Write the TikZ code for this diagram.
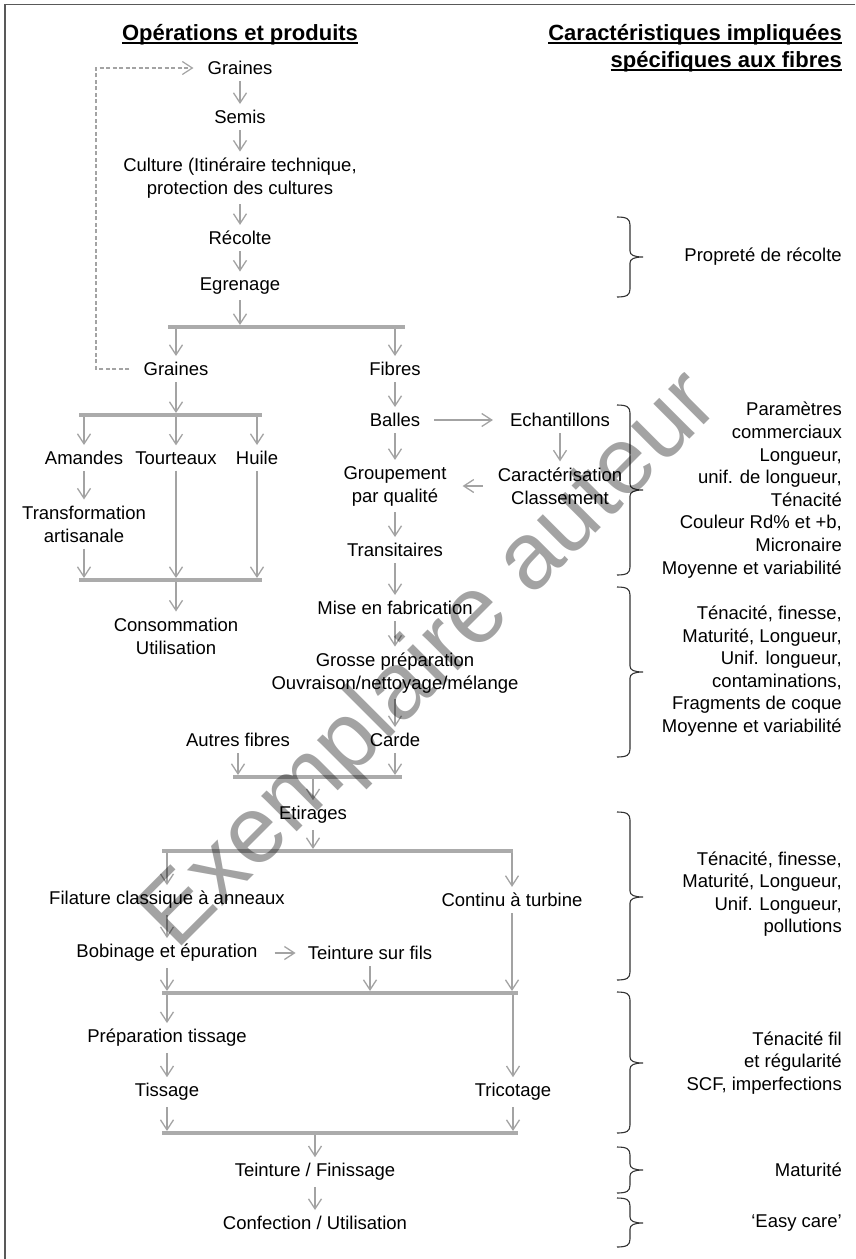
\documentclass[tikz,border=0pt]{standalone}
\usepackage{fontspec}
\setmainfont{Liberation Sans}
\usetikzlibrary{arrows.meta}

\definecolor{flgris}{HTML}{A3A3A3}
\definecolor{bargris}{HTML}{ABABAB}
\definecolor{traitgris}{HTML}{333333}

\tikzset{
  etape/.style={font=\fontsize{18.5}{23}\selectfont, align=center, inner sep=2pt},
  carac/.style={font=\fontsize{18.5}{22.6}\selectfont, align=right, anchor=east, inner sep=0pt},
  titre/.style={font=\fontsize{22}{27}\selectfont\bfseries, inner sep=0pt},
  fleche/.style={draw=flgris, line width=1.3pt, -{Straight Barb[length=10pt,width=13pt]}, shorten <=4pt, shorten >=4pt},
  vers barre/.style={fleche, shorten >=2pt},
  de barre/.style={fleche, shorten <=2pt},
  barre/.style={draw=bargris, line width=4pt},
  retour/.style={fleche, dash pattern=on 4pt off 2.5pt, line width=1.2pt, shorten <=12pt, shorten >=12pt},
  accol/.style={draw=traitgris, line width=1.1pt}
}

% accolade: haut, pointe, bas
\newcommand{\accolade}[3]{%
  \draw[accol] (617,#1) .. controls (627,#1) and (630,{#1+2}) .. (630,{#1+8})
    -- (630,{#2-6}) .. controls (630,{#2-2}) and (634,#2) .. (643,#2)
    .. controls (634,#2) and (630,{#2+2}) .. (630,{#2+6})
    -- (630,{#3-8}) .. controls (630,{#3-2}) and (627,#3) .. (617,#3);}

\begin{document}
\begin{tikzpicture}[x=1pt, y=-1pt]
  \useasboundingbox (0,0) rectangle (855,1259);
  \draw[draw=black!65, line width=1.5pt] (855,4.5) -- (5,4.5) -- (5,1259);

  % titres
  \node[titre, anchor=base] (titreg) at (240,40) {Opérations et produits};
  \node[titre, anchor=base east] (titred1) at (842,40) {Caractéristiques impliquées};
  \node[titre, anchor=base east] (titred2) at (842,67) {spécifiques aux fibres};
  \foreach \t in {titreg,titred1,titred2}
    \draw[line width=1.6pt] ([yshift=-2.8pt]\t.base west) -- ([yshift=-2.8pt]\t.base east);

  % culture
  \node[etape] (graine1) at (240,68) {Graines};
  \node[etape] (semis) at (240,117) {Semis};
  \node[etape] (culture) at (240,178) {Culture (Itinéraire technique,\\protection des cultures};
  \node[etape] (recolte) at (240,238) {Récolte};
  \node[etape] (egrenage) at (240,286) {Egrenage};

  % graines
  \node[etape] (graine2) at (176,369) {Graines};
  \node[etape] (amandes) at (84,458) {Amandes};
  \node[etape] (tourteaux) at (176,458) {Tourteaux};
  \node[etape] (huile) at (257,458) {Huile};
  \node[etape] (transfo) at (84,524) {Transformation\\artisanale};
  \node[etape] (conso) at (176,636) {Consommation\\Utilisation};

  % fibres
  \node[etape] (fibres) at (395,369) {Fibres};
  \node[etape] (balles) at (395,420) {Balles};
  \node[etape] (echant) at (560,420) {Echantillons};
  \node[etape] (caract) at (560,486) {Caractérisation\\Classement};
  \node[etape] (groupe) at (395,486) {Groupement\\par qualité};
  \node[etape] (transit) at (395,550) {Transitaires};
  \node[etape] (mise) at (395,608) {Mise en fabrication};
  \node[etape] (grosse) at (395,673) {Grosse préparation\\Ouvraison/nettoyage/mélange};
  \node[etape] (carde) at (395,740) {Carde};
  \node[etape] (autres) at (238,740) {Autres fibres};
  \node[etape] (etirages) at (313,815) {Etirages};

  % filature et tissage
  \node[etape] (filature) at (167,900) {Filature classique à anneaux};
  \node[etape] (continu) at (512,900) {Continu à turbine};
  \node[etape] (bobinage) at (167,953) {Bobinage et épuration};
  \node[etape] (teinfils) at (370,953) {Teinture sur fils};
  \node[etape] (prepa) at (167,1038) {Préparation tissage};
  \node[etape] (tissage) at (167,1092) {Tissage};
  \node[etape] (tricot) at (513,1092) {Tricotage};
  \node[etape] (finissage) at (315,1172) {Teinture / Finissage};
  \node[etape] (confection) at (315,1223) {Confection / Utilisation};

  % barres
  \coordinate (b1g) at (168,327);  \coordinate (b1d) at (405,327);
  \coordinate (b2g) at (79,415);   \coordinate (b2d) at (262,415);
  \coordinate (b3g) at (79,580);   \coordinate (b3d) at (262,580);
  \coordinate (b4g) at (233,777);  \coordinate (b4d) at (402,777);
  \coordinate (b5g) at (162,851);  \coordinate (b5d) at (513,851);
  \coordinate (b6g) at (162,993);  \coordinate (b6d) at (518,993);
  \coordinate (b7g) at (162,1133); \coordinate (b7d) at (518,1133);
  \foreach \b in {1,...,7}
    \draw[barre] (b\b g) -- (b\b d);

  \draw[fleche] (graine1) -- (semis);
  \draw[fleche] (semis) -- (culture);
  \draw[fleche] (culture) -- (recolte);
  \draw[fleche] (recolte) -- (egrenage);
  \draw[vers barre] (egrenage) -- (egrenage |- b1g);
  \draw[de barre] (graine2 |- b1g) -- (graine2);
  \draw[de barre] (fibres |- b1g) -- (fibres);

  \coordinate (boucle) at (96,200);
  \draw[retour] (graine2) -| (boucle) |- (graine1);

  \draw[vers barre] (graine2) -- (graine2 |- b2g);
  \draw[de barre] (amandes |- b2g) -- (amandes);
  \draw[de barre] (tourteaux |- b2g) -- (tourteaux);
  \draw[de barre] (huile |- b2g) -- (huile);
  \draw[fleche] (amandes) -- (transfo);
  \draw[vers barre] (transfo) -- (transfo |- b3g);
  \draw[vers barre] (tourteaux) -- (tourteaux |- b3g);
  \draw[vers barre] (huile) -- (huile |- b3g);
  \draw[de barre] (conso |- b3g) -- (conso);

  \draw[fleche] (fibres) -- (balles);
  \draw[fleche, shorten <=12pt, shorten >=15pt] (balles) -- (echant);
  \draw[fleche] (echant) -- (caract);
  \draw[fleche, shorten <=13pt, shorten >=14pt] (caract) -- (groupe);
  \draw[fleche] (balles) -- (groupe);
  \draw[fleche] (groupe) -- (transit);
  \draw[fleche] (transit) -- (mise);
  \draw[fleche] (mise) -- (grosse);
  \draw[fleche] (grosse) -- (carde);
  \draw[vers barre] (autres) -- (autres |- b4g);
  \draw[vers barre] (carde) -- (carde |- b4g);
  \draw[de barre] (etirages |- b4g) -- (etirages);
  \draw[vers barre] (etirages) -- (etirages |- b5g);

  \draw[de barre] (filature |- b5g) -- (filature);
  \draw[de barre] (continu |- b5g) -- (continu);
  \draw[fleche] (filature) -- (bobinage);
  \draw[fleche, shorten <=15pt, shorten >=10pt] (bobinage) -- (teinfils);
  \draw[vers barre] (bobinage) -- (bobinage |- b6g);
  \draw[vers barre] (teinfils) -- (teinfils |- b6g);
  \draw[vers barre] (continu) -- (continu |- b6g);
  \draw[de barre] (prepa |- b6g) -- (prepa);
  \draw[de barre] (tricot |- b6g) -- (tricot);
  \draw[fleche] (prepa) -- (tissage);
  \draw[vers barre] (tissage) -- (tissage |- b7g);
  \draw[vers barre] (tricot) -- (tricot |- b7g);
  \draw[de barre] (finissage |- b7g) -- (finissage);
  \draw[fleche] (finissage) -- (confection);

  % caracteristiques
  \accolade{217}{257}{297}
  \node[carac] (c1) at (842,257) {Propreté de récolte};
  \accolade{405}{490}{575}
  \node[carac] (c2) at (842,490) {Paramètres\\commerciaux\\Longueur,\\unif. de longueur,\\Ténacité\\Couleur Rd\% et +b,\\Micronaire\\Moyenne et variabilité};
  \accolade{587}{672}{757}
  \node[carac] (c3) at (842,671) {Ténacité, finesse,\\Maturité, Longueur,\\Unif. longueur,\\contaminations,\\Fragments de coque\\Moyenne et variabilité};
  \accolade{812}{897}{980}
  \node[carac] (c4) at (842,894) {Ténacité, finesse,\\Maturité, Longueur,\\Unif. Longueur,\\pollutions};
  \accolade{992}{1063}{1133}
  \node[carac] (c5) at (842,1063) {Ténacité fil\\et régularité\\SCF, imperfections};
  \accolade{1147}{1170}{1193}
  \node[carac] (c6) at (842,1170) {Maturité};
  \accolade{1198}{1223}{1247}
  \node[carac] (c7) at (842,1223) {‘Easy care’};

  \node[rotate=45, font=\fontsize{95}{95}\selectfont, opacity=0.36] (filigrane) at (432,662) {Exemplaire auteur};
\end{tikzpicture}
\end{document}
